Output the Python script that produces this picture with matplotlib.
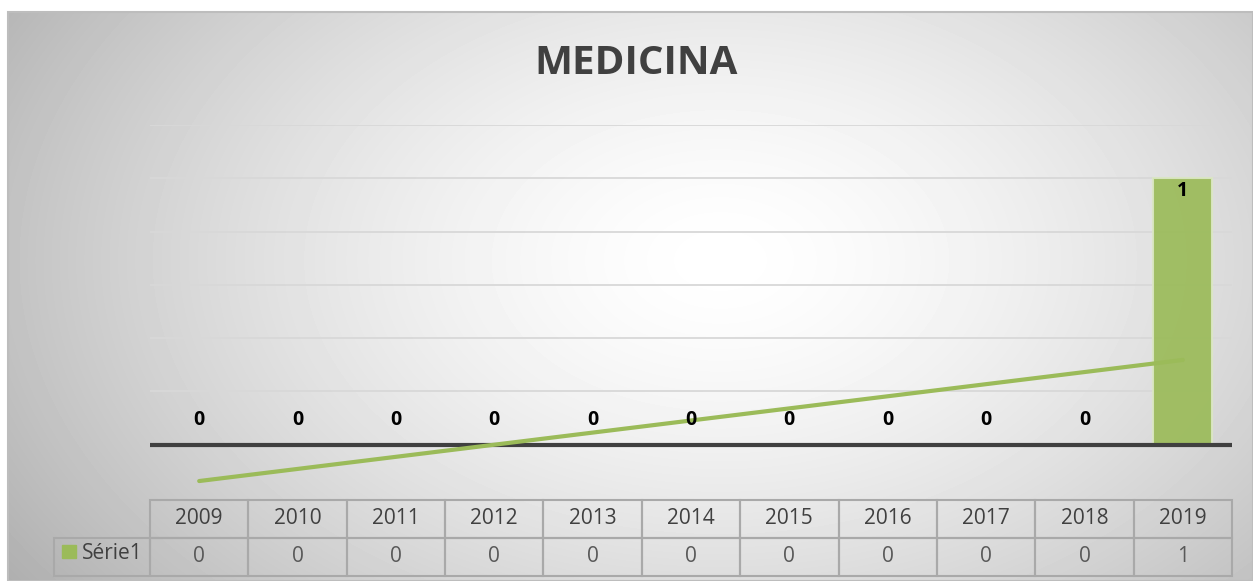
import numpy as np
import matplotlib.pyplot as plt
from matplotlib.patches import Rectangle

# ------------------------------
# Data
# ------------------------------
years = ['2009', '2010', '2011', '2012', '2013', '2014',
         '2015', '2016', '2017', '2018', '2019']
values = [0, 0, 0, 0, 0, 0, 0, 0, 0, 0, 1]
series_name = 'Série1'
chart_title = 'MEDICINA'

GREEN = '#9bbb59'
W, H = 1253, 581

plt.rcParams['font.family'] = ['Open Sans', 'DejaVu Sans']
fig = plt.figure(figsize=(W / 100, H / 100), dpi=100)

# ------------------------------
# Chart area background (radial gradient, Excel style)
# ------------------------------
bg = fig.add_axes([8 / W, 0, (W - 8) / W, (H - 12) / H])
yy, xx = np.mgrid[12:H, 8:W]
d = np.sqrt(((xx - 720) / 700) ** 2 + ((yy - 260) / 460) ** 2)
shade = 1 - 0.23 * np.clip(d, 0, 1.3) ** 1.5
bg.imshow(shade, cmap='gray', vmin=0, vmax=1, aspect='auto',
          extent=(8, W, H, 12), interpolation='bilinear')
bg.set_xlim(8, W)
bg.set_ylim(H, 12)
bg.axis('off')
fig.patches.append(Rectangle((8 / W, 0), (W - 8) / W, (H - 12) / H,
                             transform=fig.transFigure, fill=False,
                             ec='#bdbdbd', lw=1.5, zorder=2))

fig.text(636 / W, 1 - 64 / H, chart_title, ha='center', va='center',
         fontsize=29, fontweight='bold', color='#404040')

# ------------------------------
# Plot area
# ------------------------------
ax = fig.add_axes([150 / W, (H - 498) / H, 1082 / W, 373 / H])
ax.patch.set_alpha(0)
x = np.arange(len(years))

for y in np.arange(0.2, 1.21, 0.2):
    ax.axhline(y, color='#d8d8d8', lw=1.3, zorder=1)

ax.bar(x, values, width=0.6, color=GREEN, alpha=0.92,
       edgecolor='#dbe7c4', lw=1.5, zorder=3)
ax.axhline(0, color='#404040', lw=3, zorder=4)

# linear trendline
coef = np.polyfit(x, values, 1)
ax.plot(x, np.polyval(coef, x), color=GREEN, lw=3, zorder=5,
        solid_capstyle='round')

for i, v in enumerate(values):
    dy = -9 if v > 0 else 18
    ax.annotate(str(v), (i, v), xytext=(0, dy), textcoords='offset points',
                ha='center', va='center', fontsize=14,
                fontweight='bold', color='black', zorder=6)

ax.set_xlim(-0.5, len(years) - 0.5)
ax.set_ylim(-0.2, 1.2)
ax.set_xticks([])
ax.set_yticks([])
for s in ax.spines.values():
    s.set_visible(False)

# ------------------------------
# Data table
# ------------------------------
tab = fig.add_axes([150 / W, 5 / H, 1082 / W, 76 / H])
tab.set_xlim(-0.5, len(years) - 0.5)
tab.set_ylim(0, 2)
tab.axis('off')
cell_c = '#a9a9a9'
leg_w = 96 / 98.36

for i, (yr, v) in enumerate(zip(years, values)):
    tab.add_patch(Rectangle((i - 0.5, 1), 1, 1, fill=False, ec=cell_c,
                            lw=1.5, clip_on=False))
    tab.add_patch(Rectangle((i - 0.5, 0), 1, 1, fill=False, ec=cell_c,
                            lw=1.5, clip_on=False))
    tab.text(i, 1.52, yr, ha='center', va='center', fontsize=15,
             color='#404040')
    tab.text(i, 0.52, str(v), ha='center', va='center', fontsize=15,
             color='#595959')

tab.add_patch(Rectangle((-0.5 - leg_w, 0), leg_w, 1, fill=False, ec=cell_c,
                        lw=1.5, clip_on=False))
tab.add_patch(Rectangle((-1.395, 0.47), 0.142, 0.35, color=GREEN,
                        clip_on=False))
tab.text(-1.19, 0.6, series_name, ha='left', va='center', fontsize=15,
         color='#404040')

plt.savefig('out.png', dpi=100)
